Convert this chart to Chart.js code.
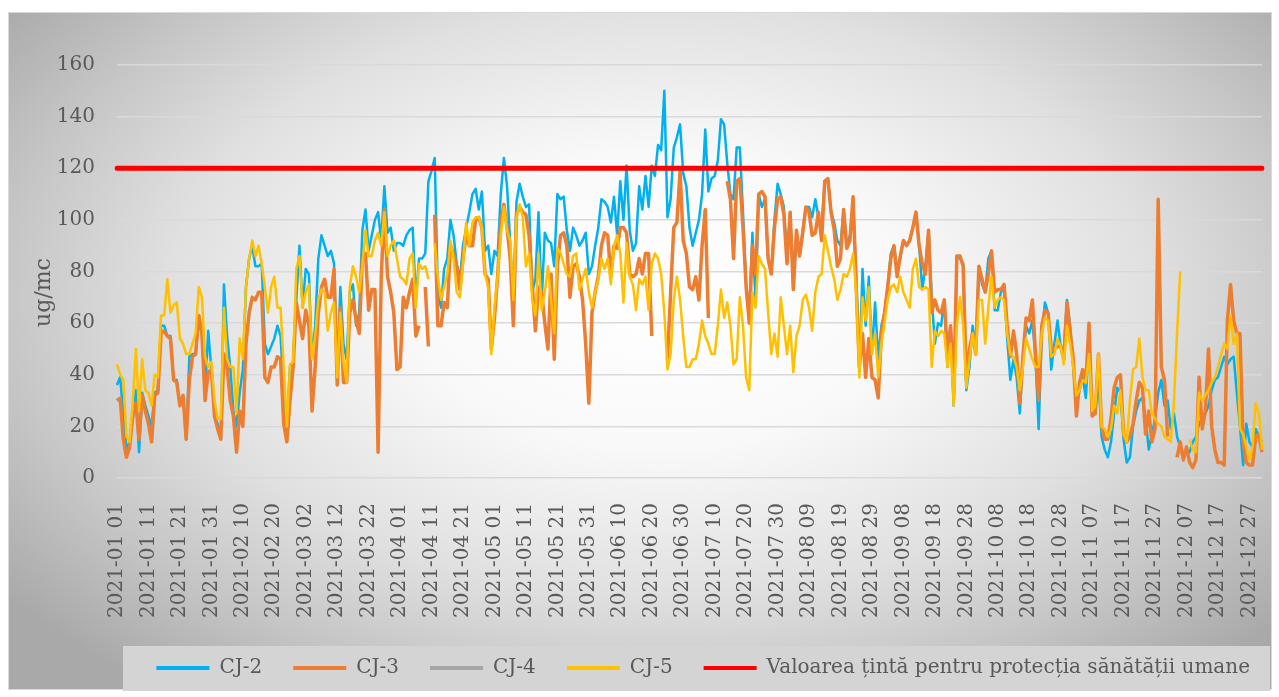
<!DOCTYPE html>
<html>
<head>
<meta charset="utf-8">
<script src="https://cdn.jsdelivr.net/npm/chart.js@4.4.0/dist/chart.umd.min.js"></script>
<style>
  html, body { margin: 0; padding: 0; background: #fff; }
  canvas { display: block; }
</style>
</head>
<body>
<canvas id="chartPm" width="1279" height="697" style="width:1279px;height:697px"></canvas>
<script>
/* global Chart */

// categorii: zilele anului 2021, format "2021-01 01"
const dayLabels = [];
for (let d = 0; d < 365; d++) {
  const dt = new Date(Date.UTC(2021, 0, 1 + d));
  const mm = String(dt.getUTCMonth() + 1).padStart(2, "0");
  const dd = String(dt.getUTCDate()).padStart(2, "0");
  dayLabels.push(`2021-${mm} ${dd}`);
}

const TARGET = 120; // valoarea tinta

const cj2 = [
  36,39,25,11,14,23,34,10,33,28, 24,20,33,34,59,59,55,55,38,38,
  28,32,15,47,48,48,63,56,33,57, 42,24,21,16,75,55,43,26,20,33,
  42,74,85,90,82,82,83,52,48,51, 54,59,55,33,20,43,45,69,90,66,
  81,79,46,59,85,94,90,86,88,83, 39,74,52,46,72,75,59,64,96,104,
  88,94,100,103,92,113,95,97,88,91, 91,90,94,96,97,69,85,85,87,115,
  119,124,72,66,81,85,100,94,83,77, 90,97,103,110,112,104,111,88,90,79,
  88,86,110,124,113,91,68,107,114,109, 105,106,72,77,103,68,95,92,91,82,
  110,108,109,96,88,97,94,90,92,95, 79,82,90,97,108,107,105,99,109,94,
  115,100,121,96,88,91,113,104,117,105, 121,117,129,127,150,101,108,128,132,137,
  118,113,97,90,95,100,110,135,111,116, 117,123,139,137,122,110,108,128,128,103,
  75,64,95,68,110,105,108,85,79,100, 114,110,105,85,103,73,94,86,96,105,
  105,101,108,101,97,115,116,103,99,92, 90,104,90,94,107,78,41,81,59,78,
  48,68,46,59,64,74,87,90,81,85, 92,90,92,97,103,90,73,82,96,70,
  52,60,59,69,43,59,28,86,85,83, 34,43,59,50,82,75,72,85,88,65,
  65,72,73,54,38,46,39,25,46,59, 56,61,46,19,56,68,64,42,52,61,
  51,50,69,59,43,28,34,39,31,52, 24,25,39,16,11,8,14,25,35,33,
  15,6,8,20,26,30,31,23,11,17, 23,33,38,28,30,19,25,16,12,8,
  10,10,14,16,21,23,25,28,34,38, 39,43,47,44,46,47,33,20,5,21,
  14,12,19,16,14
];

const cj3 = [
  30,31,15,8,12,24,29,15,32,26, 21,14,32,33,56,57,55,54,38,37,
  28,32,15,38,47,48,63,56,30,41, 42,24,19,15,48,43,30,24,10,26,
  20,52,64,70,69,72,72,39,37,43, 43,47,46,21,14,30,43,68,61,54,
  65,59,26,43,64,74,77,70,70,81, 36,66,37,37,64,69,61,56,85,87,
  65,73,73,10,78,104,78,72,64,42, 43,70,66,72,77,55,59,null,74,51,
  null,102,59,59,68,66,90,87,82,73, 85,94,90,90,100,101,97,79,77,50,
  62,78,99,106,97,85,59,102,105,103, 102,94,75,57,74,72,60,50,79,46,
  82,94,95,90,70,82,83,78,69,52, 29,64,72,78,90,95,94,78,90,89,
  97,97,95,79,78,79,85,79,87,87, 55,null,null,null,null,46,72,97,99,119,
  92,87,74,73,78,69,90,104,62,null, null,null,null,null,115,108,85,115,116,97,
  74,60,90,79,110,111,109,85,79,97, 108,109,102,83,103,73,96,86,95,105,
  103,94,95,103,92,115,116,103,96,82, 85,104,89,92,109,74,43,56,39,54,
  39,38,31,56,64,74,85,90,78,86, 92,90,92,97,103,90,83,79,96,64,
  69,65,64,69,48,59,33,86,86,82, 38,50,56,48,82,77,72,79,88,72,
  73,73,75,59,47,57,48,29,47,62, 61,69,48,30,59,65,64,50,50,51,
  51,46,68,57,46,24,37,42,37,60, 24,25,48,20,15,15,23,35,39,40,
  17,14,16,21,30,37,35,17,26,14, 19,108,43,38,16,null,null,8,14,7,
  12,6,4,7,39,19,26,50,20,11, 6,6,5,61,75,61,56,56,14,6,
  5,5,16,17,10
];

const cj4 = []; // fara date

const cj5 = [
  44,40,38,16,14,29,50,26,46,34, 33,28,40,39,63,63,77,64,67,68,
  54,52,48,48,52,56,74,70,47,43, 45,30,23,23,66,46,43,43,25,54,
  46,74,85,92,86,90,83,74,64,74, 78,66,66,43,20,44,45,81,86,66,
  72,75,46,55,69,73,72,57,64,68, 39,64,45,37,74,82,78,72,82,96,
  86,86,92,95,90,103,86,90,92,85, 78,77,75,85,87,66,83,81,82,77,
  null,91,78,69,74,79,92,85,72,70, 83,99,90,99,101,101,97,79,74,48,
  66,78,94,105,96,92,69,101,106,101, 82,87,69,63,87,65,72,82,69,56,
  89,87,83,79,78,86,87,73,77,81, 72,66,72,77,85,81,85,75,90,94,
  87,68,91,78,75,65,77,75,78,65, 83,87,85,79,64,42,48,69,78,69,
  55,43,43,46,46,52,61,55,52,48, 48,59,73,62,68,59,44,46,70,59,
  39,34,72,66,86,83,81,64,48,56, 47,70,59,48,59,41,55,59,69,71,
  66,57,72,78,79,94,88,82,77,69, 73,79,78,81,87,72,39,70,61,74,
  48,56,39,52,60,69,74,75,72,78, 72,69,66,81,85,74,73,74,73,43,
  57,55,57,56,43,52,28,59,70,59, 35,46,56,48,69,69,52,66,78,66,
  69,70,69,56,48,47,43,34,43,54, 50,46,43,43,56,62,61,47,48,54,
  51,44,59,52,43,32,34,38,37,48, 26,28,48,20,19,16,19,28,25,34,
  17,14,30,42,43,54,39,34,34,25, 23,21,20,16,15,14,29,56,80,null,
  null,15,11,10,33,30,32,34,37,39, 43,48,52,50,63,52,56,19,17,12,
  7,12,29,25,11
];

const targetLine = [
  { x: dayLabels[0], y: TARGET },
  { x: dayLabels[dayLabels.length - 1], y: TARGET },
];

// fundal gri cu gradient + caseta legendei
const backdrop = {
  id: "backdrop",
  afterLayout(chart) {
    // legenda putin spre dreapta, ca in original
    chart.legend.left += 19;
    chart.legend.right += 19;
  },
  beforeDraw(chart) {
    const ctx = chart.ctx;
    ctx.save();
    ctx.fillStyle = "#ffffff";
    ctx.fillRect(0, 0, chart.width, chart.height);

    ctx.save();
    ctx.beginPath();
    ctx.rect(8, 12, 1264, 678);
    ctx.clip();
    ctx.translate(660, 300);
    ctx.scale(1, 0.6);
    const g = ctx.createRadialGradient(0, 0, 0, 0, 0, 820);
    g.addColorStop(0, "#ffffff");
    g.addColorStop(0.3, "#f9f9f9");
    g.addColorStop(0.6, "#e0e0e0");
    g.addColorStop(0.8, "#c6c6c6");
    g.addColorStop(1, "#a9a9a9");
    ctx.fillStyle = g;
    ctx.fillRect(-900, -1200, 1800, 2400);
    ctx.restore();

    ctx.strokeStyle = "#d9d9d9";
    ctx.lineWidth = 1;
    ctx.strokeRect(8.5, 12.5, 1263, 677);

    ctx.fillStyle = "#d4d4d4";
    ctx.fillRect(123, 646, 1147, 45);
    ctx.restore();
  },
};

const txt = "#595959";

new Chart(document.getElementById("chartPm"), {
  type: "line",
  data: {
    labels: dayLabels,
    datasets: [
      { label: "CJ-2", data: cj2, borderColor: "#00B0F0", backgroundColor: "#00B0F0", borderWidth: 2.5, order: 4 },
      { label: "CJ-3", data: cj3, borderColor: "#ED7D31", backgroundColor: "#ED7D31", borderWidth: 3.5, order: 3 },
      { label: "CJ-4", data: cj4, borderColor: "#A5A5A5", backgroundColor: "#A5A5A5", borderWidth: 2.5, order: 2 },
      { label: "CJ-5", data: cj5, borderColor: "#FFC000", backgroundColor: "#FFC000", borderWidth: 2.5, order: 1 },
      {
        label: "Valoarea țintă pentru protecția sănătății umane",
        data: targetLine, borderColor: "#FF0000", backgroundColor: "#FF0000",
        borderWidth: 5, borderCapStyle: "round", order: 0,
      },
    ],
  },
  options: {
    responsive: false,
    animation: false,
    devicePixelRatio: 1,
    layout: { padding: { left: 9, right: 17, top: 65, bottom: 9 } },
    elements: {
      point: { radius: 0, hoverRadius: 0 },
      line: { tension: 0, borderJoinStyle: "round" },
    },
    plugins: {
      tooltip: { enabled: false },
      legend: {
        position: "bottom",
        align: "end",
        labels: {
          boxWidth: 53,
          boxHeight: 4,
          padding: 31,
          color: txt,
          font: { family: "DejaVu Serif", size: 20 },
          sort: (a, b) => a.datasetIndex - b.datasetIndex,
          generateLabels: (chart) =>
            Chart.defaults.plugins.legend.labels.generateLabels(chart).map((l) =>
              Object.assign(l, { lineWidth: 0 })
            ),
        },
      },
    },
    scales: {
      x: {
        grid: { display: false },
        border: { display: false },
        ticks: {
          autoSkip: false,
          minRotation: 90,
          maxRotation: 90,
          padding: 17,
          color: txt,
          font: { family: "DejaVu Serif", size: 20 },
          callback: (v, i) => (i % 10 === 0 ? dayLabels[i] : ""),
        },
        afterFit: (s) => {
          s.height = 149;
          s.paddingLeft = 0;
          s.paddingRight = 0;
        },
      },
      y: {
        min: 0,
        max: 160,
        ticks: {
          stepSize: 20,
          padding: 22,
          color: txt,
          font: { family: "DejaVu Serif", size: 20 },
        },
        grid: { color: "#d9d9d9", lineWidth: 1.5, drawTicks: false },
        border: { display: false },
        title: {
          display: true,
          text: "ug/mc      ",
          color: txt,
          font: { family: "DejaVu Serif", size: 22 },
          padding: { top: 22, bottom: 0 },
        },
        afterFit: (s) => { s.width = 108; },
      },
    },
  },
  plugins: [backdrop],
});
</script>
</body>
</html>
